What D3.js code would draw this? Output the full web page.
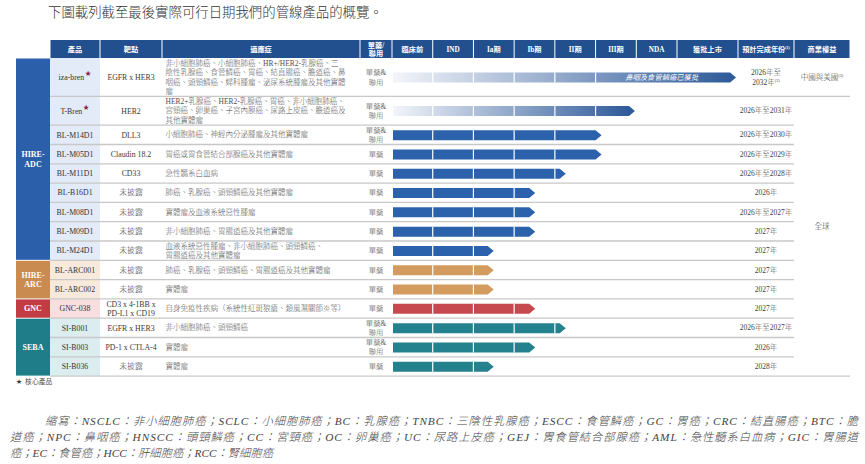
<!DOCTYPE html>
<html>
<head>
<meta charset="utf-8">
<script src="https://cdn.jsdelivr.net/npm/d3@7"></script>
<style>
  body { margin: 0; background: #fff; }
</style>
</head>
<body>
<div id="chart"></div>
<script>
// ---------- data ----------
var title = "下圖載列截至最後實際可行日期我們的管線產品的概覽。";

var headers = ["產品", "靶點", "適應症", "單藥/^聯用"];
var stages = ["臨床前", "IND", "Ia期", "Ib期", "II期", "III期", "NDA", "獲批上市"];
var tailHeaders = ["預計完成年份^(1)", "商業權益"];

var platformNames = ["HIRE-ADC", "HIRE-ARC", "GNC", "SEBA"];
var platformLabels = [["HIRE-", "ADC"], ["HIRE-", "ARC"], ["GNC"], ["SEBA"]];

var products = ["iza-bren", "T-Bren", "BL-M14D1", "BL-M05D1", "BL-M11D1", "BL-B16D1",
  "BL-M08D1", "BL-M09D1", "BL-M24D1", "BL-ARC001", "BL-ARC002", "GNC-038",
  "SI-B001", "SI-B003", "SI-B036"];
var coreProducts = ["iza-bren", "T-Bren"];
var platforms = ["HIRE-ADC", "HIRE-ADC", "HIRE-ADC", "HIRE-ADC", "HIRE-ADC", "HIRE-ADC",
  "HIRE-ADC", "HIRE-ADC", "HIRE-ADC", "HIRE-ARC", "HIRE-ARC", "GNC",
  "SEBA", "SEBA", "SEBA"];
var targets = [["EGFR x HER3"], ["HER2"], ["DLL3"], ["Claudin 18.2"], ["CD33"], ["未披露"],
  ["未披露"], ["未披露"], ["未披露"], ["未披露"], ["未披露"], ["CD3 x 4-1BB x", "PD-L1 x CD19"],
  ["EGFR x HER3"], ["PD-1 x CTLA-4"], ["未披露"]];
var indications = [
  ["非小細胞肺癌、小細胞肺癌、HR+/HER2-乳腺癌、三",
   "陰性乳腺癌、食管鱗癌、胃癌、結直腸癌、膽道癌、鼻",
   "咽癌、頭頸鱗癌、婦科腫瘤、泌尿系統腫瘤及其他實體",
   "瘤"],
  ["HER2+乳腺癌、HER2-乳腺癌、胃癌、非小細胞肺癌、",
   "宮頸癌、卵巢癌、子宮內膜癌、尿路上皮癌、膽道癌及",
   "其他實體瘤"],
  ["小細胞肺癌、神經內分泌腫瘤及其他實體瘤"],
  ["胃癌或胃食管結合部腺癌及其他實體瘤"],
  ["急性髓系白血病"],
  ["肺癌、乳腺癌、頭頸鱗癌及其他實體瘤"],
  ["實體瘤及血液系統惡性腫瘤"],
  ["非小細胞肺癌、胃腸道癌及其他實體瘤"],
  ["血液系統惡性腫瘤、非小細胞肺癌、頭頸鱗癌、", "胃腸道癌及其他實體瘤"],
  ["肺癌、乳腺癌、頭頸鱗癌、胃腸道癌及其他實體瘤"],
  ["實體瘤"],
  ["自身免疫性疾病（系統性紅斑狼瘡、類風濕關節炎等）"],
  ["非小細胞肺癌、頭頸鱗癌"],
  ["實體瘤"],
  ["實體瘤"]
];
var regimens = ["單藥&聯用", "單藥&聯用", "單藥&聯用", "單藥", "單藥", "單藥", "單藥", "單藥",
  "單藥", "單藥", "單藥", "單藥", "單藥&聯用", "單藥&聯用", "單藥"];
// progress in stage units (0 = start of 臨床前, 1 = start of IND, ...)
var progress = [7.87, 5.82, 5.0, 5.0, 4.12, 3.37, 3.37, 3.37, 2.35, 2.35, 2.35, 3.37, 4.12, 3.37, 2.35];
var fadedBars = ["iza-bren", "T-Bren"];
var barNotes = ["鼻咽及食管鱗癌已獲批", "", "", "", "", "", "", "", "", "", "", "", "", "", ""];
var completion = [["2026年至", "2032年^(2)"], ["2026年至2031年"], ["2026年至2030年"], ["2026年至2029年"],
  ["2026年至2028年"], ["2026年"], ["2026年至2027年"], ["2027年"], ["2027年"], ["2027年"],
  ["2027年"], ["2027年"], ["2026年至2027年"], ["2026年"], ["2028年"]];
var rightsLabels = ["中國與美國^(3)", "全球"];
var rightsFrom = [0, 1];
var rightsTo = [0, 13];

var footStar = "核心產品";
var abbrLines = [
  "縮寫：NSCLC：非小細胞肺癌；SCLC：小細胞肺癌；BC：乳腺癌；TNBC：三陰性乳腺癌；ESCC：食管鱗癌；GC：胃癌；CRC：結直腸癌；BTC：膽",
  "道癌；NPC：鼻咽癌；HNSCC：頭頸鱗癌；CC：宮頸癌；OC：卵巢癌；UC：尿路上皮癌；GEJ：胃食管結合部腺癌；AML：急性髓系白血病；GIC：胃腸道",
  "癌；EC：食管癌；HCC：肝細胞癌；RCC：腎細胞癌"
];

// ---------- styles / layout ----------
var W = 865, H = 464;
var serif = "'Liberation Serif','Noto Sans CJK TC',serif";
var platformColor = d3.scaleOrdinal().domain(platformNames)
  .range(["#2b5fa9", "#c98b4f", "#c23d43", "#1f7d89"]);
var platformTint = d3.scaleOrdinal().domain(platformNames)
  .range(["#e2ebf7", "#f7eadc", "#f8dedf", "#dcedf0"]);
var barColor = d3.scaleOrdinal().domain(platformNames)
  .range(["#2c62ab", "#d39c5e", "#c5494e", "#24818e"]);

var headTop = 40, headBot = 58;
var groupX0 = 16, groupX1 = 50;
var colEdges = [50, 100, 162, 360, 392];           // 產品 | 靶點 | 適應症 | 單藥/聯用
var stageStart = 392, stageEnd = 677, approvedEnd = 738;
var stageEdges = d3.range(8).map(function (i) { return stageStart + i * (stageEnd - stageStart) / 7; })
  .concat([approvedEnd]);
var tailEdges = [approvedEnd, 794, 850];

var x = d3.scaleLinear().domain(d3.range(stageEdges.length)).range(stageEdges);

var lineCounts = products.map(function (p, i) {
  return Math.max(indications[i].length, targets[i].length);
});
var rowH = lineCounts.map(function (n) { return n >= 3 ? n * 9.6 : 19.3; });
var rowTop = [headBot].concat(Array.from(d3.cumsum(rowH), function (c) { return headBot + c; }));
var rowMid = function (i) { return (rowTop[i] + rowTop[i + 1]) / 2; };
var tableBot = rowTop[products.length];

var svg = d3.select("#chart").append("svg")
  .attr("width", W).attr("height", H)
  .style("font-family", serif);

var defs = svg.append("defs");

// write text with an optional "^" superscript part
function writeLine(t, s) {
  var parts = s.split("^");
  t.append("tspan").text(parts[0]);
  if (parts.length > 1) {
    t.append("tspan").attr("font-size", "0.55em").attr("dy", "-0.6em").text(parts[1]);
  }
}
function block(g, lines, cx, cy, anchor, lh, attrs) {
  lines.forEach(function (s, k) {
    var t = g.append("text")
      .attr("x", cx)
      .attr("y", cy + (k - (lines.length - 1) / 2) * lh)
      .attr("dy", "0.35em")
      .attr("text-anchor", anchor);
    Object.keys(attrs).forEach(function (a) { t.attr(a, attrs[a]); });
    writeLine(t, s);
  });
}

// title
svg.append("text")
  .attr("x", 48).attr("y", 17)
  .attr("font-size", 13.4).attr("fill", "#333")
  .attr("font-weight", 300)
  .style("font-family", "'Noto Sans CJK TC',sans-serif")
  .text(title);

// header
var headCells = [];
colEdges.forEach(function (e, i) {
  if (i < colEdges.length - 1) headCells.push({ x0: e, x1: colEdges[i + 1], label: headers[i] });
});
stages.forEach(function (s, i) { headCells.push({ x0: x(i), x1: x(i + 1), label: s }); });
tailHeaders.forEach(function (s, i) { headCells.push({ x0: tailEdges[i], x1: tailEdges[i + 1], label: s }); });

var head = svg.append("g");
head.selectAll("rect").data(headCells).join("rect")
  .attr("x", function (d) { return d.x0 + 0.5; })
  .attr("y", headTop)
  .attr("width", function (d) { return d.x1 - d.x0 - 1; })
  .attr("height", headBot - headTop)
  .attr("fill", "#22508f");
headCells.forEach(function (d) {
  var lines = d.label.indexOf("^") > 0 && d.label.indexOf("^(") < 0 ? d.label.split("^") : [d.label];
  block(head, lines, (d.x0 + d.x1) / 2, (headTop + headBot) / 2, "middle", 8,
    { "font-size": 7.2, "fill": "#ffffff", "font-weight": 600 });
});

// platform blocks
var groups = platformNames.map(function (name, gi) {
  var idx = d3.range(products.length).filter(function (i) { return platforms[i] === name; });
  return { name: name, label: platformLabels[gi], first: d3.min(idx), last: d3.max(idx) };
});
var gBlocks = svg.append("g");
groups.forEach(function (g) {
  var y0 = rowTop[g.first], y1 = rowTop[g.last + 1];
  gBlocks.append("rect")
    .attr("x", groupX0).attr("y", y0 + 0.5)
    .attr("width", groupX1 - groupX0).attr("height", y1 - y0 - 1)
    .attr("fill", platformColor(g.name));
  block(gBlocks, g.label, (groupX0 + groupX1) / 2, (y0 + y1) / 2, "middle", 9.5,
    { "font-size": 8, "fill": "#ffffff", "font-weight": 700 });
});

// rows
var rows = svg.append("g");
products.forEach(function (p, i) {
  var y0 = rowTop[i], y1 = rowTop[i + 1], cy = rowMid(i);
  rows.append("rect")
    .attr("x", colEdges[0]).attr("y", y0)
    .attr("width", colEdges[1] - colEdges[0]).attr("height", y1 - y0)
    .attr("fill", platformTint(platforms[i]));

  // product name (+ core star)
  var t = rows.append("text")
    .attr("x", (colEdges[0] + colEdges[1]) / 2).attr("y", cy).attr("dy", "0.35em")
    .attr("text-anchor", "middle").attr("font-size", 7.8).attr("fill", "#333");
  t.append("tspan").text(p);
  if (coreProducts.indexOf(p) >= 0) {
    t.append("tspan").attr("dy", -4).attr("dx", 0.5).attr("font-size", 7.5)
      .attr("fill", "#8c1d3c").style("font-family", "'DejaVu Sans',sans-serif").text("★");
  }

  block(rows, targets[i], (colEdges[1] + colEdges[2]) / 2, cy, "middle", 9.5,
    { "font-size": 7.8, "fill": "#3a3a3a", "font-weight": 300 });
  block(rows, indications[i], colEdges[2] + 3.5, cy, "start", 9.5,
    { "font-size": 7.5, "fill": "#505050", "font-weight": 300 });
  var reg = regimens[i].indexOf("&") > 0 ? [regimens[i].split("&")[0] + "&", regimens[i].split("&")[1]] : [regimens[i]];
  block(rows, reg, (colEdges[3] + colEdges[4]) / 2, cy, "middle", 9.5,
    { "font-size": 7.3, "fill": "#505050", "font-weight": 300 });
  block(rows, completion[i], (tailEdges[0] + tailEdges[1]) / 2, cy, "middle", 9.5,
    { "font-size": 7.5, "fill": "#404040", "font-weight": 300 });
});

// commercial rights (merged cells)
rightsLabels.forEach(function (s, k) {
  var cy = (rowTop[rightsFrom[k]] + rowTop[rightsTo[k] + 1]) / 2;
  block(rows, [s], (tailEdges[1] + tailEdges[2]) / 2, cy, "middle", 9.5,
    { "font-size": 7.5, "fill": "#404040", "font-weight": 300 });
});

// row separators
var seps = svg.append("g").attr("stroke", "#c8c8c8").attr("stroke-width", 1.3);
d3.range(1, products.length + 1).forEach(function (r) {
  var wide = r === 1 || r === products.length;
  seps.append("line")
    .attr("x1", colEdges[0]).attr("x2", wide ? tailEdges[2] : tailEdges[1])
    .attr("y1", rowTop[r]).attr("y2", rowTop[r]);
});

// progress bars
var bars = svg.append("g");
var barHalf = 5, tip = 6;
products.forEach(function (p, i) {
  var cy = rowMid(i) + 0.3;
  var x0 = x(0) + 1, x1 = x(progress[i]);
  var fill = barColor(platforms[i]);
  if (fadedBars.indexOf(p) >= 0) {
    var id = "grad" + i;
    var lg = defs.append("linearGradient").attr("id", id)
      .attr("gradientUnits", "userSpaceOnUse")
      .attr("x1", x0).attr("x2", x1).attr("y1", 0).attr("y2", 0);
    lg.append("stop").attr("offset", 0).attr("stop-color", "#f3f5fa");
    lg.append("stop").attr("offset", 1).attr("stop-color", "#2f5b9a");
    fill = "url(#" + id + ")";
  }
  bars.append("path")
    .attr("d", "M" + x0 + "," + (cy - barHalf) + "H" + x1 + "L" + (x1 + tip) + "," + cy +
      "L" + x1 + "," + (cy + barHalf) + "H" + x0 + "Z")
    .attr("fill", fill);
  d3.range(1, 6).forEach(function (s) {
    if (x(s) < x1 - 2) {
      bars.append("line")
        .attr("x1", x(s)).attr("x2", x(s))
        .attr("y1", cy - barHalf).attr("y2", cy + barHalf)
        .attr("stroke", "#ffffff").attr("stroke-width", 1.2);
    }
  });
  if (barNotes[i]) {
    bars.append("text")
      .attr("x", (x(5.5) + x(7.5)) / 2).attr("y", cy).attr("dy", "0.35em")
      .attr("text-anchor", "middle").attr("font-size", 7.3).attr("fill", "#ffffff")
      .attr("font-style", "italic")
      .style("font-family", "'Noto Sans CJK TC',sans-serif")
      .text(barNotes[i]);
  }
});

// core product note
var fn = svg.append("text").attr("x", groupX0).attr("y", tableBot + 6).attr("dy", "0.35em")
  .attr("font-size", 6.8).attr("fill", "#555");
fn.append("tspan").style("font-family", "'DejaVu Sans',sans-serif").attr("fill", "#333").text("★");
fn.append("tspan").attr("dx", 3).text(footStar);

// abbreviations
var abbrX = [45, 10, 10], abbrY = [425, 441, 457], abbrW = [813, 848, null];
abbrLines.forEach(function (s, k) {
  var t = svg.append("text")
    .attr("x", abbrX[k]).attr("y", abbrY[k])
    .attr("font-size", 11.3).attr("fill", "#444")
    .attr("font-style", "italic")
    .attr("font-weight", 300)
    .text(s);
  if (abbrW[k]) t.attr("textLength", abbrW[k]).attr("lengthAdjust", "spacing");
});
</script>
</body>
</html>
